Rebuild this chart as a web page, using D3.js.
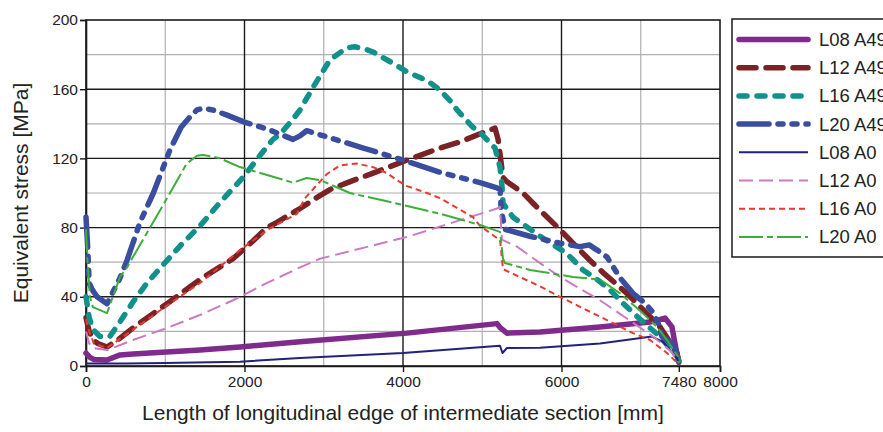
<!DOCTYPE html>
<html>
<head>
<meta charset="utf-8">
<script src="https://cdn.jsdelivr.net/npm/d3@7"></script>
<style>
  html, body { margin: 0; padding: 0; background: #fff; }
  svg { display: block; font-family: "Liberation Sans", Arial, sans-serif; }
</style>
</head>
<body>
<svg id="chart" width="883" height="432"></svg>
<script>
// Equivalent stress along the longitudinal edge of the intermediate section
// Each series: [length mm, stress MPa]
const l08a49 = [[0,7.5],[50,5],[97,3.8],[265,3.5],[430,6.4],[593,7],[1438,9.2],[1943,11],[2700,14],[4050,19],[5186,24.5],[5230,22],[5312,19],[5729,19.7],[6486,22.5],[7117,25.4],[7306,27.7],[7394,22.6],[7432,13],[7470,3.5],[7480,2]];
const l12a49 = [[0,28],[40,20],[88,15],[150,13],[265,11],[400,15],[593,22],[1022,36],[1438,50],[1855,62],[2100,72],[2284,80],[2410,83],[2550,87],[2700,91],[2900,97],[3079,102],[3300,106],[3622,111.5],[4050,119],[4467,126],[4719,129.5],[5014,135],[5161,137.5],[5200,131],[5262,109],[5312,106.5],[5514,100],[5729,90],[5943,80.5],[6145,71],[6360,61],[6524,54],[6826,42],[7117,28.5],[7243,22.6],[7457,7.5],[7480,3]];
const l16a49 = [[0,40],[40,28],[88,21],[177,17],[300,17],[450,27],[593,37],[770,48],[1022,61],[1200,70],[1438,81],[1700,95],[1981,109],[2200,122],[2360,131],[2448,134],[2600,142],[2700,148],[2864,161],[3079,177],[3293,184],[3394,184.5],[3500,183.5],[3622,181.5],[3874,175],[4050,170],[4303,165],[4467,159.5],[4600,153],[4681,148],[4883,138],[4972,135],[5098,129],[5161,126],[5224,115],[5249,104],[5262,94],[5388,86],[5729,75],[6069,65],[6271,55.5],[6448,50],[6612,44],[6738,38],[6991,27],[7243,17],[7457,5.5],[7480,3]];
const l20a49 = [[0,86],[20,70],[40,48],[80,44],[140,40],[265,36],[430,51],[517,61],[681,83],[850,100],[1060,125],[1200,138],[1312,144],[1400,148],[1476,149],[1600,148],[1780,145],[2000,141],[2284,137],[2450,134],[2612,131],[2700,133],[2784,136],[3000,133],[3500,126],[4000,119],[4467,112],[4972,106],[5186,103],[5224,102],[5240,90],[5287,79],[5600,75],[5981,71],[6233,69],[6350,70],[6450,67],[6574,63],[6738,51],[6902,42],[7060,36],[7155,31],[7218,25],[7268,17],[7394,13],[7450,8],[7480,2]];
const l08a0 = [[0,1.5],[500,1.5],[1000,1.8],[1943,2.5],[2700,4.6],[4000,7.5],[5224,11.7],[5255,7.5],[5312,10.4],[5729,10.6],[6486,13],[7142,17],[7281,14],[7457,4.6],[7480,2]];
const l12a0 = [[0,20],[40,13],[97,10.4],[265,9.2],[593,15],[1022,22],[1438,29.5],[1855,38],[2284,48],[2700,57],[2950,62],[4050,74.6],[5186,91],[5224,92],[5249,73],[5438,69],[5729,59.5],[5981,51.5],[6486,38],[6902,25],[7155,17],[7369,9],[7470,3.5],[7480,2]];
const l16a0 = [[0,27],[40,20],[100,13],[265,10.4],[593,21],[1022,35],[1438,48],[1943,67],[2300,79],[2662,88],[2763,97],[3040,111],[3205,116],[3415,117],[3622,115],[3798,111.5],[3920,107.5],[4050,104],[4303,100],[4467,97],[4883,86],[4972,81],[5186,74],[5224,73],[5262,56],[5729,46],[5981,40],[6486,28.5],[6902,19],[7117,15],[7331,7.5],[7480,1]];
const l20a0 = [[0,79],[20,60],[50,40],[88,34],[265,30.6],[429,51.5],[517,57],[770,77],[1060,100],[1270,117],[1400,121.5],[1476,122],[1600,121],[1691,120],[1943,115],[2284,110.4],[2612,106],[2784,108.7],[2952,107.5],[3331,100],[4008,93],[4467,88],[4972,81.5],[5224,77.5],[5262,62],[5287,59.5],[5603,55.5],[6145,51.5],[6486,50],[6738,42],[6991,32],[7205,22.6],[7331,15],[7470,5.5],[7480,2]];

const seriesNames = ["L08 A49","L12 A49","L16 A49","L20 A49","L08 A0","L12 A0","L16 A0","L20 A0"];
const seriesData = [l08a49, l12a49, l16a49, l20a49, l08a0, l12a0, l16a0, l20a0];

const xTicks = [0, 2000, 4000, 6000, 7480, 8000];
const yTicks = [0, 40, 80, 120, 160, 200];
const xTitle = "Length of longitudinal edge of intermediate section [mm]";
const yTitle = "Equivalent stress [MPa]";

// Line styles per series
const styles = [
  { color: "#7f2b8c", width: 5.5, dash: null,              cap: "round" },
  { color: "#7b2226", width: 5.5, dash: "17,10",           cap: "round" },
  { color: "#12908a", width: 5.5, dash: "8,10",            cap: "round" },
  { color: "#3a4d9e", width: 5.5, dash: "30,9,5,9,5,9",    cap: "round" },
  { color: "#23217a", width: 2,   dash: null,              cap: "butt" },
  { color: "#cc7ac4", width: 2,   dash: "14,6",            cap: "butt" },
  { color: "#e83a30", width: 2,   dash: "6,4",             cap: "butt" },
  { color: "#3cae3a", width: 2,   dash: "24,4,6,4",        cap: "butt" }
];

const svg = d3.select("#chart");
const x = d3.scaleLinear().domain([0, 8000]).range([86, 720]);
const y = d3.scaleLinear().domain([0, 200]).range([366, 20]);

// grid: minor (grey) then major (black)
const grid = svg.append("g");
const minorX = d3.range(1000, 8000, 2000);
const minorY = d3.range(20, 200, 40);
const majorX = [2000, 4000, 6000];
const majorY = [40, 80, 120, 160];
grid.selectAll(".mx").data(minorX).enter().append("line")
  .attr("x1", d => x(d)).attr("x2", d => x(d)).attr("y1", y(0)).attr("y2", y(200))
  .attr("stroke", "#b0b0b0").attr("stroke-width", 1.2);
grid.selectAll(".my").data(minorY).enter().append("line")
  .attr("x1", x(0)).attr("x2", x(8000)).attr("y1", d => y(d)).attr("y2", d => y(d))
  .attr("stroke", "#b0b0b0").attr("stroke-width", 1.2);
grid.selectAll(".Mx").data(majorX).enter().append("line")
  .attr("x1", d => x(d)).attr("x2", d => x(d)).attr("y1", y(0)).attr("y2", y(200))
  .attr("stroke", "#1a1a1a").attr("stroke-width", 1.4);
grid.selectAll(".My").data(majorY).enter().append("line")
  .attr("x1", x(0)).attr("x2", x(8000)).attr("y1", d => y(d)).attr("y2", d => y(d))
  .attr("stroke", "#1a1a1a").attr("stroke-width", 1.4);

// frame
svg.append("rect")
  .attr("x", x(0)).attr("y", y(200))
  .attr("width", x(8000) - x(0)).attr("height", y(0) - y(200))
  .attr("fill", "none").attr("stroke", "#1a1a1a").attr("stroke-width", 1.6);

// axes
const xAxis = svg.append("g").attr("transform", `translate(0,${y(0)})`)
  .call(d3.axisBottom(x).tickValues(xTicks).tickSize(6).tickPadding(4).tickFormat(d3.format("d")));
const yAxis = svg.append("g").attr("transform", `translate(${x(0)},0)`)
  .call(d3.axisLeft(y).tickValues(yTicks).tickSize(6).tickPadding(2).tickFormat(d3.format("d")));
[xAxis, yAxis].forEach(a => {
  a.select(".domain").attr("stroke", "#1a1a1a").attr("stroke-width", 1.6);
  a.selectAll(".tick line").attr("stroke", "#1a1a1a").attr("stroke-width", 1.4);
  a.selectAll("text").attr("font-size", 15.5).attr("fill", "#222")
    .attr("font-family", "'Liberation Sans', Arial, sans-serif");
});

// series lines
const line = d3.line().x(d => x(d[0])).y(d => y(d[1])).curve(d3.curveLinear);
const lines = svg.append("g");
seriesData.forEach((data, i) => {
  const s = styles[i];
  lines.append("path")
    .datum(data)
    .attr("d", line)
    .attr("fill", "none")
    .attr("stroke", s.color)
    .attr("stroke-width", s.width)
    .attr("stroke-linecap", s.cap)
    .attr("stroke-linejoin", "round")
    .attr("stroke-dasharray", s.dash);
});

// axis titles
svg.append("text")
  .attr("x", (x(0) + x(8000)) / 2).attr("y", 420)
  .attr("text-anchor", "middle").attr("font-size", 21).attr("fill", "#222")
  .text(xTitle);
svg.append("text")
  .attr("transform", `translate(28,${(y(0) + y(200)) / 2}) rotate(-90)`)
  .attr("text-anchor", "middle").attr("font-size", 21).attr("fill", "#222")
  .text(yTitle);

// legend
const legend = svg.append("g");
legend.append("rect")
  .attr("x", 732).attr("y", 19).attr("width", 170).attr("height", 238)
  .attr("fill", "#fff").attr("stroke", "#1a1a1a").attr("stroke-width", 1.5);
seriesNames.forEach((name, i) => {
  const s = styles[i];
  const cy = 39.5 + i * 28.2;
  legend.append("line")
    .attr("x1", 739).attr("x2", 808).attr("y1", cy).attr("y2", cy)
    .attr("stroke", s.color).attr("stroke-width", s.width)
    .attr("stroke-linecap", s.cap).attr("stroke-dasharray", s.dash);
  legend.append("text")
    .attr("x", 819).attr("y", cy + 6.5)
    .attr("font-size", 18.5).attr("fill", "#222")
    .text(name);
});
</script>
</body>
</html>
